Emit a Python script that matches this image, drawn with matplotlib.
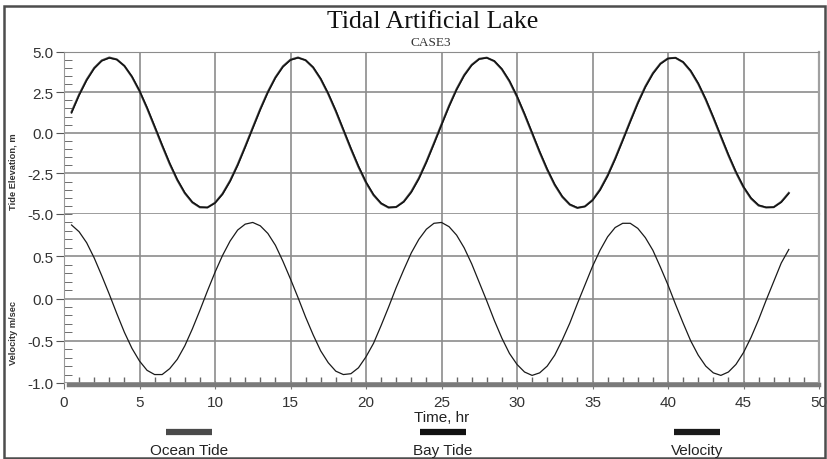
import numpy as np
import matplotlib
matplotlib.use("Agg")
import matplotlib.pyplot as plt
from matplotlib.patches import Rectangle
from matplotlib.lines import Line2D
from matplotlib.ticker import MultipleLocator, FixedLocator

plt.rcParams['font.family'] = ['Liberation Sans', 'DejaVu Sans']

# ---------------- data ----------------
title = "Tidal Artificial Lake"
subtitle = "CASE3"
series_names = ["Ocean Tide", "Bay Tide", "Velocity"]
ylabel_top = "Tide Elevation, m"
ylabel_bottom = "Velocity m/sec"
xlabel = "Time, hr"

time_half = np.arange(0.5, 48.01, 0.5)   # sampling every half hour

ocean_tide = [1.28, 2.35, 3.27, 3.99, 4.45, 4.63, 4.51, 4.11, 3.44, 2.56,
              1.51, 0.36, -0.80, -1.92, -2.91, -3.72, -4.29, -4.59, -4.60, -4.31,
              -3.75, -2.95, -1.96, -0.84, 0.32, 1.47, 2.52, 3.41, 4.09, 4.50,
              4.63, 4.46, 4.01, 3.30, 2.38, 1.32, 0.16, -1.00, -2.10, -3.07,
              -3.84, -4.36, -4.61, -4.57, -4.23, -3.62, -2.79, -1.77, -0.64, 0.52,
              1.66, 2.69, 3.55, 4.18, 4.55, 4.62, 4.40, 3.90, 3.16, 2.21,
              1.12, -0.04, -1.20, -2.28, -3.22, -3.95, -4.43, -4.63, -4.53, -4.14,
              -3.49, -2.62, -1.58, -0.44, 0.72, 1.85, 2.85, 3.67, 4.26, 4.58,
              4.61, 4.34, 3.79, 3.01, 2.03, 0.92, -0.24, -1.39, -2.45, -3.36,
              -4.05, -4.48, -4.60, -4.58, -4.25, -3.70]

bay_tide = [1.22, 2.30, 3.22, 3.95, 4.42, 4.60, 4.50, 4.12, 3.47, 2.60,
            1.56, 0.42, -0.74, -1.86, -2.86, -3.68, -4.26, -4.57, -4.60, -4.33,
            -3.79, -3.00, -2.02, -0.90, 0.26, 1.41, 2.47, 3.37, 4.05, 4.47,
            4.61, 4.47, 4.04, 3.34, 2.43, 1.38, 0.22, -0.94, -2.04, -3.02,
            -3.80, -4.33, -4.59, -4.57, -4.26, -3.67, -2.85, -1.83, -0.70, 0.46,
            1.60, 2.64, 3.50, 4.15, 4.53, 4.61, 4.42, 3.93, 3.21, 2.27,
            1.18, 0.02, -1.14, -2.22, -3.17, -3.91, -4.40, -4.61, -4.54, -4.17,
            -3.54, -2.68, -1.64, -0.50, 0.66, 1.79, 2.80, 3.62, 4.23, 4.56,
            4.61, 4.36, 3.83, 3.06, 2.09, 0.98, -0.18, -1.33, -2.39, -3.31,
            -4.01, -4.45, -4.59, -4.58, -4.28, -3.74]

velocity = [0.87, 0.79, 0.66, 0.48, 0.27, 0.05, -0.18, -0.40, -0.59, -0.74,
            -0.85, -0.90, -0.90, -0.83, -0.72, -0.56, -0.36, -0.14, 0.09, 0.31,
            0.51, 0.68, 0.81, 0.88, 0.90, 0.86, 0.77, 0.63, 0.44, 0.23,
            0.01, -0.22, -0.43, -0.62, -0.76, -0.86, -0.90, -0.89, -0.82, -0.69,
            -0.53, -0.32, -0.10, 0.13, 0.34, 0.54, 0.70, 0.82, 0.89, 0.90,
            0.85, 0.75, 0.60, 0.41, 0.19, -0.03, -0.26, -0.47, -0.65, -0.78,
            -0.87, -0.91, -0.88, -0.80, -0.67, -0.49, -0.29, -0.06, 0.16, 0.38,
            0.57, 0.73, 0.84, 0.89, 0.89, 0.83, 0.72, 0.57, 0.37, 0.16,
            -0.07, -0.29, -0.50, -0.67, -0.80, -0.88, -0.91, -0.87, -0.78, -0.64,
            -0.46, -0.25, -0.02, 0.20, 0.42, 0.58]

x_ticks = [0, 5, 10, 15, 20, 25, 30, 35, 40, 45, 50]
tide_ticks = [-5.0, -2.5, 0.0, 2.5, 5.0]
vel_ticks = [-1.0, -0.5, 0.0, 0.5]

series_colors = ["#4a4a4a", "#111111", "#1a1a1a"]

# ---------------- figure ----------------
W, H = 827, 460
fig = plt.figure(figsize=(W / 100, H / 100), dpi=100)
fig.patch.set_facecolor("white")

def fx(px):
    return px / W

def fy(py):
    return 1 - py / H

left, right = 64, 819
ax1 = fig.add_axes([fx(left), fy(215), fx(right - left), (215 - 52.5) / H])
ax2 = fig.add_axes([fx(left), fy(384), fx(right - left), (384 - 215) / H])

grid_col = "#8c8c8c"
tick_col = "#555555"

for ax in (ax1, ax2):
    ax.set_xlim(0, 50)
    ax.xaxis.set_major_locator(FixedLocator(x_ticks))
    ax.grid(True, which="major", color=grid_col, lw=1.2)
    ax.set_axisbelow(True)
    ax.spines["left"].set_color("#9a9a9a")
    ax.spines["top"].set_color("#8c8c8c")
    ax.spines["right"].set_color("#a0a0a0")
    ax.spines["right"].set_linewidth(1.6)
    ax.tick_params(axis="y", which="major", direction="out", length=6,
                   color=tick_col, labelsize=11, labelcolor="#333333", pad=1.5)
    ax.tick_params(axis="y", which="minor", direction="in", length=6,
                   color=tick_col)

# top panel
ax1.plot(time_half, ocean_tide, color=series_colors[0], lw=1.5)
ax1.plot(time_half, bay_tide, color=series_colors[1], lw=1.0)
ax1.set_ylim(-5.0, 5.0)
ax1.yaxis.set_major_locator(FixedLocator(tide_ticks))
ax1.set_yticklabels([f"{v:.1f}" for v in tide_ticks])
ax1.yaxis.set_minor_locator(MultipleLocator(0.5))
ax1.spines["bottom"].set_visible(False)
ax1.tick_params(axis="x", which="both", length=0, labelbottom=False)

# bottom panel
ax2.plot(time_half, velocity, color=series_colors[2], lw=0.9)
ax2.set_ylim(-1.0, 1.0)
ax2.yaxis.set_major_locator(FixedLocator(vel_ticks))
ax2.set_yticklabels([f"{v:.1f}" for v in vel_ticks])
ax2.yaxis.set_minor_locator(MultipleLocator(0.1))
ax2.spines["top"].set_visible(False)
ax2.spines["bottom"].set_color("#7a7a7a")
ax2.spines["bottom"].set_linewidth(3.2)
ax2.spines["bottom"].set_bounds(0.3, 50)
ax2.spines["bottom"].set_position(("outward", 1.5))
ax2.xaxis.set_minor_locator(MultipleLocator(1))
ax2.tick_params(axis="x", which="minor", direction="in", length=6,
                color="#666666", width=1)
ax2.tick_params(axis="x", which="major", direction="inout", length=6,
                color="#777777", labelsize=11, labelcolor="#333333", pad=4)
ax2.set_xlabel(xlabel, fontsize=11, color="#222222", labelpad=1)

# y labels
fig.text(fx(13), fy(172), ylabel_top, rotation=90, fontsize=6.7,
         fontweight="bold", ha="center", va="center", color="#333333")
fig.text(fx(13), fy(333), ylabel_bottom, rotation=90, fontsize=6.7,
         fontweight="bold", ha="center", va="center", color="#333333")

# titles
fig.text(fx(433), fy(27.5), title, family=["Liberation Serif"], fontsize=18.5,
         ha="center", va="baseline", color="#111111")
fig.text(fx(431), fy(43), subtitle, family=["Liberation Serif"], fontsize=9.5,
         ha="center", va="center", color="#333333")

# legend below
leg_x = [189, 443, 697]
for name, col, cx in zip(series_names, series_colors, leg_x):
    fig.add_artist(Line2D([fx(cx - 23), fx(cx + 23)], [fy(433), fy(433)],
                          color=col, lw=4.5, solid_capstyle="butt"))
    fig.text(fx(cx), fy(451), name, fontsize=11, ha="center", va="center",
             color="#222222")

# outer frame
fig.add_artist(Rectangle((fx(4), fy(459)), fx(821), (459 - 6.5) / H,
                         fill=False, edgecolor="#4d4d4d", lw=1.8))

fig.savefig("out.png", dpi=100)
